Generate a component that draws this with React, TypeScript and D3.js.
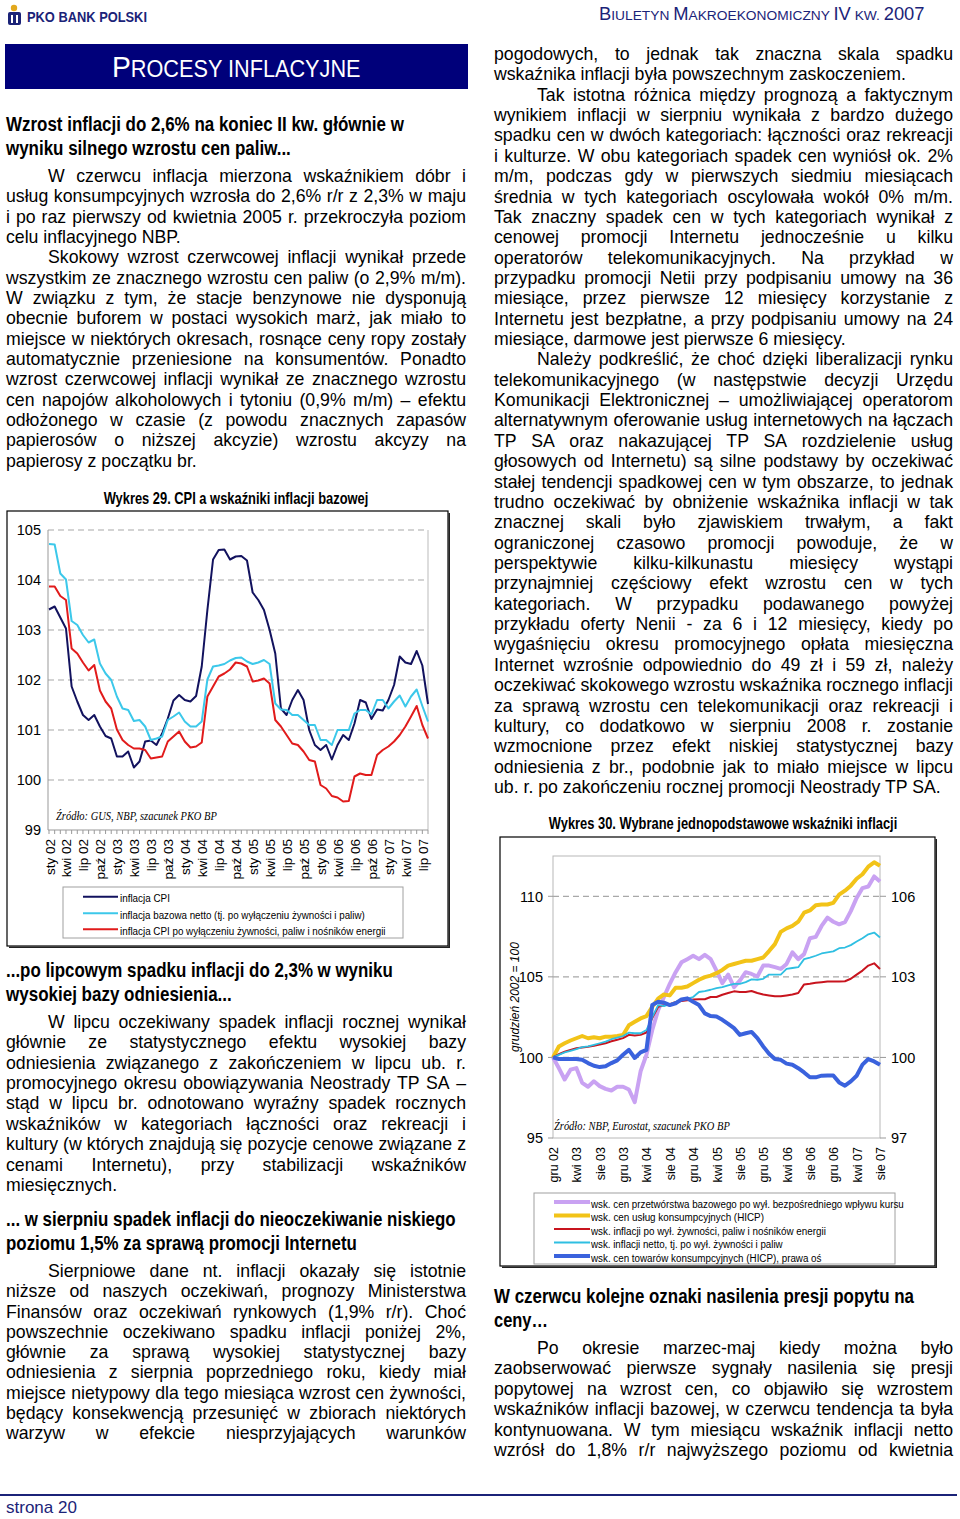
import React from 'react';
import * as d3 from 'd3';

// ---------------- Chart 29: Jan 2002 – Aug 2007 (analogous month previous year = 100)
const cpi29 = [
  103.41, 103.47, 103.25, 103.03, 101.87, 101.57, 101.3, 101.2, 101.3, 101.07, 100.88, 100.83,
  100.47, 100.47, 100.57, 100.25, 100.37, 100.77, 100.79, 100.7, 100.93, 101.23, 101.59, 101.7,
  101.6, 101.57, 101.68, 102.27, 103.4, 104.41, 104.6, 104.61, 104.41, 104.47, 104.48, 104.39,
  103.75, 103.6, 103.4, 103.0, 102.53, 101.43, 101.3, 101.6, 101.8, 101.6, 101.0, 100.7,
  100.6, 100.7, 100.41, 100.7, 100.9, 100.8, 101.13, 101.6, 101.55, 101.22, 101.41, 101.39,
  101.6, 101.9, 102.47, 102.35, 102.32, 102.58, 102.29, 101.52,
];
const netCore29 = [
  104.72, 104.71, 104.13, 104.01, 103.18, 103.1, 102.9, 102.75, 102.81, 102.33, 102.13, 102.0,
  101.67, 101.43, 101.4, 101.18, 101.2, 101.07, 100.8, 100.83, 100.87, 101.2, 101.27, 101.35,
  101.17, 101.07, 101.07, 101.17, 102.01, 102.27, 102.29, 102.32, 102.39, 102.44, 102.45, 102.37,
  102.32, 102.35, 102.4, 102.32, 101.53, 101.41, 101.4, 101.3, 101.3, 101.2, 101.1, 101.1,
  100.8, 100.8, 100.7, 101.0, 101.0, 101.0, 101.33, 101.4, 101.4, 101.31, 101.6, 101.6,
  101.43, 101.57, 101.69, 101.47, 101.67, 101.81, 101.48, 101.17,
];
const exEnergy29 = [
  103.87, 103.87, 103.68, 103.6, 102.63, 102.53, 102.35, 102.19, 102.3, 101.79, 101.57, 101.43,
  101.01, 100.8, 100.7, 100.63, 100.63, 100.6, 100.43, 100.45, 100.47, 100.77, 100.87, 100.97,
  100.77, 100.65, 100.67, 100.75, 101.67, 101.87, 102.07, 102.13, 102.21, 102.35, 102.33, 102.27,
  101.97, 101.99, 102.03, 101.93, 101.2, 101.07, 100.9, 100.73, 100.7, 100.57, 100.4, 100.37,
  99.9, 99.83, 99.68, 99.65, 99.57, 99.58, 100.07, 100.13, 100.1, 100.1, 100.5, 100.6,
  100.67, 100.77, 100.9, 101.07, 101.27, 101.48, 101.1, 100.83,
];
const xTicks29 = ['sty 02', 'kwi 02', 'lip 02', 'paź 02', 'sty 03', 'kwi 03', 'lip 03', 'paź 03',
  'sty 04', 'kwi 04', 'lip 04', 'paź 04', 'sty 05', 'kwi 05', 'lip 05', 'paź 05', 'sty 06',
  'kwi 06', 'lip 06', 'paź 06', 'sty 07', 'kwi 07', 'lip 07'];
const yTicks29 = [99, 100, 101, 102, 103, 104, 105];
const legend29 = ['inflacja CPI', 'inflacja bazowa netto (tj. po wyłączeniu żywności i paliw)',
  'inflacja CPI po wyłączeniu żywności, paliw i nośników energii'];

// ---------------- Chart 30: Dec 2002 – Aug 2007 (Dec 2002 = 100)
const processed30 = [
  100, 99.34, 98.63, 99.24, 99.34, 98.42, 98.18, 98.52, 98.22, 98.05, 97.95, 98.18, 98.18,
  98.01, 97.23, 99.14, 100.16, 101.7, 102.93, 103.75, 104.57, 105.29, 105.9, 106.1, 106.31,
  106.1, 106.37, 106.1, 105.39, 104.61, 105.14, 104.36, 104.77, 105.29, 105.18, 105.02, 105.7,
  105.7, 105.6, 105.49, 105.8, 106.52, 106.1, 106.41, 107.4, 107.48, 108.16, 108.67, 108.42,
  108.26, 108.4, 109.08, 109.9, 110.51, 110.61, 111.23, 110.92,
];
const services30 = [
  100, 100.68, 100.88, 101.05, 101.19, 101.33, 101.19, 101.25, 101.19, 101.29, 101.29, 101.33, 101.39,
  102.0, 102.21, 102.42, 102.56, 103.14, 103.65, 103.91, 103.85, 104.32, 104.32, 104.4, 104.61,
  104.82, 104.98, 105.08, 105.23, 105.43, 105.7, 105.8, 105.9, 106.0, 106.0, 106.1, 106.2,
  106.6, 107.03, 107.79, 108.01, 108.16, 108.42, 108.98, 109.12, 109.45, 109.49, 109.49, 109.59,
  110.1, 110.35, 110.66, 111.09, 111.37, 111.84, 112.11, 111.9,
];
const exEnergy30 = [
  100, 100.2, 100.35, 100.47, 100.57, 100.62, 100.66, 100.72, 100.8, 100.88, 101.0, 101.1, 101.2,
  101.4, 101.36, 101.4, 101.55, 102.45, 103.14, 103.24, 103.3, 103.44, 103.5, 103.55, 103.59,
  103.61, 103.61, 103.75, 103.75, 103.89, 104.0, 104.1, 104.06, 104.06, 104.12, 104.0, 103.91,
  103.85, 103.79, 103.79, 103.85, 103.91, 104.0, 104.53, 104.57, 104.63, 104.67, 104.71, 104.71,
  104.71, 104.73, 104.88, 105.14, 105.39, 105.7, 105.84, 105.49,
];
const netCore30 = [
  100, 100.16, 100.31, 100.41, 100.51, 100.64, 100.68, 100.78, 100.88, 100.98, 101.13, 101.23, 101.33,
  101.54, 101.5, 101.5, 101.7, 102.5, 103.24, 103.18, 103.3, 103.44, 103.59, 103.65, 103.75,
  104.06, 104.12, 104.2, 104.3, 104.36, 104.47, 104.57, 104.57, 104.67, 104.84, 104.82, 104.88,
  105.14, 105.14, 105.14, 105.49, 105.55, 105.6, 106.1, 106.2, 106.31, 106.45, 106.52, 106.58,
  106.78, 106.82, 106.97, 107.19, 107.4, 107.64, 107.75, 107.44,
];
const goods30 = [
  100, 99.94, 99.94, 99.94, 99.94, 99.91, 99.79, 99.69, 99.64, 99.67, 99.79, 99.89, 100.1,
  100.28, 99.98, 100.19, 100.28, 101.95, 102.07, 102.04, 101.95, 102.01, 102.16, 102.2, 102.07,
  101.95, 101.64, 101.54, 101.52, 101.4, 101.25, 101.09, 100.84, 100.9, 100.95, 100.72, 100.41,
  100.14, 99.94, 99.91, 99.77, 99.73, 99.6, 99.44, 99.26, 99.26, 99.32, 99.33, 99.33,
  99.07, 98.95, 99.11, 99.32, 99.73, 99.94, 99.85, 99.73,
];
const xTicks30 = ['gru 02', 'kwi 03', 'sie 03', 'gru 03', 'kwi 04', 'sie 04', 'gru 04', 'kwi 05',
  'sie 05', 'gru 05', 'kwi 06', 'sie 06', 'gru 06', 'kwi 07', 'sie 07'];
const yTicksL30 = [95, 100, 105, 110];
const yTicksR30 = [97, 100, 103, 106];
const legend30 = ['wsk. cen przetwórstwa bazowego po wył. bezpośredniego wpływu kursu',
  'wsk. cen usług konsumpcyjnych (HICP)', 'wsk. inflacji po wył. żywności, paliw i nośników energii',
  'wsk. inflacji netto, tj. po wył. żywności i paliw', 'wsk. cen towarów konsumpcyjnych (HICP), prawa oś'];

// ---------------- Text
const leftTop = [
  '>W czerwcu inflacja mierzona wskaźnikiem dóbr i',
  'usług konsumpcyjnych wzrosła do 2,6% r/r z 2,3% w maju',
  'i po raz pierwszy od kwietnia 2005 r. przekroczyła poziom',
  'celu inflacyjnego NBP.|',
  '>Skokowy wzrost czerwcowej inflacji wynikał przede',
  'wszystkim ze znacznego wzrostu cen paliw (o 2,9% m/m).',
  'W związku z tym, że stacje benzynowe nie dysponują',
  'obecnie buforem w postaci wysokich marż, jak miało to',
  'miejsce w niektórych okresach, rosnące ceny ropy zostały',
  'automatycznie przeniesione na konsumentów. Ponadto',
  'wzrost czerwcowej inflacji wynikał ze znacznego wzrostu',
  'cen napojów alkoholowych i tytoniu (0,9% m/m) – efektu',
  'odłożonego w czasie (z powodu znacznych zapasów',
  'papierosów o niższej akcyzie) wzrostu akcyzy na',
  'papierosy z początku br.|',
];
const leftMid = [
  '>W lipcu oczekiwany spadek inflacji rocznej wynikał',
  'głównie ze statystycznego efektu wysokiej bazy',
  'odniesienia związanego z zakończeniem w lipcu ub. r.',
  'promocyjnego okresu obowiązywania Neostrady TP SA –',
  'stąd w lipcu br. odnotowano wyraźny spadek rocznych',
  'wskaźników w kategoriach łączności oraz rekreacji i',
  'kultury (w których znajdują się pozycje cenowe związane z',
  'cenami Internetu), przy stabilizacji wskaźników',
  'miesięcznych.|',
];
const leftBottom = [
  '>Sierpniowe dane nt. inflacji okazały się istotnie',
  'niższe od naszych oczekiwań, prognozy Ministerstwa',
  'Finansów oraz oczekiwań rynkowych (1,9% r/r). Choć',
  'powszechnie oczekiwano spadku inflacji poniżej 2%,',
  'głównie za sprawą wysokiej statystycznej bazy',
  'odniesienia z sierpnia poprzedniego roku, kiedy miał',
  'miejsce nietypowy dla tego miesiąca wzrost cen żywności,',
  'będący konsekwencją przesunięć w zbiorach niektórych',
  'warzyw w efekcie niesprzyjających warunków',
];
const rightTop = [
  'pogodowych, to jednak tak znaczna skala spadku',
  'wskaźnika inflacji była powszechnym zaskoczeniem.|',
  '>Tak istotna różnica między prognozą a faktycznym',
  'wynikiem inflacji w sierpniu wynikała z bardzo dużego',
  'spadku cen w dwóch kategoriach: łączności oraz rekreacji',
  'i kulturze. W obu kategoriach spadek cen wyniósł ok. 2%',
  'm/m, podczas gdy w pierwszych siedmiu miesiącach',
  'średnia w tych kategoriach oscylowała wokół 0% m/m.',
  'Tak znaczny spadek cen w tych kategoriach wynikał z',
  'cenowej promocji Internetu jednocześnie u kilku',
  'operatorów telekomunikacyjnych. Na przykład w',
  'przypadku promocji Netii przy podpisaniu umowy na 36',
  'miesiące, przez pierwsze 12 miesięcy korzystanie z',
  'Internetu jest bezpłatne, a przy podpisaniu umowy na 24',
  'miesiące, darmowe jest pierwsze 6 miesięcy.|',
  '>Należy podkreślić, że choć dzięki liberalizacji rynku',
  'telekomunikacyjnego (w następstwie decyzji Urzędu',
  'Komunikacji Elektronicznej – umożliwiającej operatorom',
  'alternatywnym oferowanie usług internetowych na łączach',
  'TP SA oraz nakazującej TP SA rozdzielenie usług',
  'głosowych od Internetu) są silne podstawy by oczekiwać',
  'stałej tendencji spadkowej cen w tym obszarze, to jednak',
  'trudno oczekiwać by obniżenie wskaźnika inflacji w tak',
  'znacznej skali było zjawiskiem trwałym, a fakt',
  'ograniczonej czasowo promocji powoduje, że w',
  'perspektywie kilku-kilkunastu miesięcy wystąpi',
  'przynajmniej częściowy efekt wzrostu cen w tych',
  'kategoriach. W przypadku podawanego powyżej',
  'przykładu oferty Nenii - za 6 i 12 miesięcy, kiedy po',
  'wygaśnięciu okresu promocyjnego opłata miesięczna',
  'Internet wzrośnie odpowiednio do 49 zł i 59 zł, należy',
  'oczekiwać skokowego wzrostu wskaźnika rocznego inflacji',
  'za sprawą wzrostu cen telekomunikacji oraz rekreacji i',
  'kultury, co dodatkowo w sierpniu 2008 r. zostanie',
  'wzmocnione przez efekt niskiej statystycznej bazy',
  'odniesienia z br., podobnie jak to miało miejsce w lipcu',
  'ub. r. po zakończeniu rocznej promocji Neostrady TP SA.|',
];
const rightBottom = [
  '>Po okresie marzec-maj kiedy można było',
  'zaobserwować pierwsze sygnały nasilenia się presji',
  'popytowej na wzrost cen, co objawiło się wzrostem',
  'wskaźników inflacji bazowej, w czerwcu tendencja ta była',
  'kontynuowana. W tym miesiącu wskaźnik inflacji netto',
  'wzrósł do 1,8% r/r najwyższego poziomu od kwietnia',
];

const SANS = '"Liberation Sans", Arial, sans-serif';
const SERIF = '"Liberation Serif", "Times New Roman", serif';
const BODY = 17.7;
const NAVY = '#1B2378';

let _ctx: CanvasRenderingContext2D | null = null;
function textWidth(s: string, font: string): number {
  if (!_ctx) {
    const c = document.createElement('canvas');
    _ctx = c.getContext('2d');
  }
  if (!_ctx) return s.length * 8;
  _ctx.font = font;
  return _ctx.measureText(s).width;
}

type Part = { t: string; size: number };

// Text horizontally squeezed (narrow-font look) to a measured width via a scale transform
function SqText({ x, y, w, parts, weight = 'normal', italic = false, serif = false, anchor = 'start', fill = '#000', dy }:
  { x: number; y: number; w: number; parts: Part[]; weight?: string; italic?: boolean; serif?: boolean; anchor?: string; fill?: string; dy?: string }) {
  const fam = serif ? '"Liberation Serif"' : '"Liberation Sans"';
  const natural = d3.sum(parts, (p) => textWidth(p.t, `${italic ? 'italic ' : ''}${weight} ${p.size}px ${fam}`));
  const k = natural > 0 ? w / natural : 1;
  return (
    <text transform={`translate(${x},${y}) scale(${k},1)`} textAnchor={anchor} dy={dy}
      fontFamily={serif ? SERIF : SANS} fontWeight={weight} fontStyle={italic ? 'italic' : 'normal'} fill={fill}>
      {parts.map((p, i) => <tspan key={i} fontSize={p.size}>{p.t}</tspan>)}
    </text>
  );
}

function TextBlock({ lines, x0, x1, indent, y0, dy }: { lines: string[]; x0: number; x1: number; indent: number; y0: number; dy: number }) {
  const font = `${BODY}px "Liberation Sans"`;
  return (
    <g fontFamily={SANS} fontSize={BODY} fill="#000">
      {lines.map((raw, i) => {
        let s = raw;
        let ind = false;
        let last = false;
        if (s.startsWith('>')) { ind = true; s = s.slice(1); }
        if (s.endsWith('|')) { last = true; s = s.slice(0, -1); }
        const xs = ind ? indent : x0;
        const y = y0 + i * dy;
        if (last) return <text key={i} x={xs} y={y}>{s}</text>;
        const words = s.split(' ');
        const ws = words.map((w) => textWidth(w, font));
        const sum = d3.sum(ws);
        const gap = words.length > 1 ? (x1 - xs - sum) / (words.length - 1) : 0;
        let cx = xs;
        const pos = ws.map((w) => { const p = cx; cx += w + gap; return p; });
        return (
          <text key={i} y={y}>
            {words.map((w, j) => <tspan key={j} x={pos[j]}>{w}</tspan>)}
          </text>
        );
      })}
    </g>
  );
}

function Heading({ x, y, w, text }: { x: number; y: number; w: number; text: string }) {
  return <SqText x={x} y={y} w={w} parts={[{ t: text, size: 19.5 }]} weight="bold" />;
}

function Box({ x, y, w, h }: { x: number; y: number; w: number; h: number }) {
  return (
    <g>
      <rect x={x} y={y} width={w} height={h} fill="#fff" stroke="#000" strokeWidth={1.2} />
      <line x1={x + w + 1.2} y1={y + 2} x2={x + w + 1.2} y2={y + h + 2} stroke="#222" strokeWidth={1.6} />
      <line x1={x + 2} y1={y + h + 1.2} x2={x + w + 2} y2={y + h + 1.2} stroke="#222" strokeWidth={1.6} />
    </g>
  );
}

function Chart29() {
  const x = d3.scaleLinear().domain([0, cpi29.length - 1]).range([49, 428]);
  const y = d3.scaleLinear().domain([99, 105]).range([830, 530]);
  const line = d3.line<number>().x((_, i) => x(i)).y((d) => y(d));
  const series = [
    { data: cpi29, color: '#12125E' },
    { data: netCore29, color: '#3CC8EA' },
    { data: exEnergy29, color: '#E11B1B' },
  ];
  const widths = [50, 245, 266];
  return (
    <g>
      <SqText x={236} y={504} w={265} anchor="middle" weight="bold" parts={[{ t: 'Wykres 29. CPI a wskaźniki inflacji bazowej', size: 16 }]} />
      <Box x={7} y={511} w={441} h={435} />
      {yTicks29.filter((t) => t > 99).map((t) => (
        <line key={t} x1={48} x2={428} y1={y(t)} y2={y(t)} stroke="#A8A8A8" strokeWidth={1.2} strokeDasharray="6,4" />
      ))}
      <line x1={48} x2={48} y1={530} y2={830} stroke="#999" />
      <line x1={428} x2={428} y1={530} y2={830} stroke="#BBB" />
      <line x1={48} x2={428} y1={830} y2={830} stroke="#999" />
      {cpi29.map((_, i) => (
        <line key={i} x1={x(i)} x2={x(i)} y1={830} y2={834} stroke="#999" />
      ))}
      {yTicks29.map((t) => (
        <text key={t} x={41} y={y(t)} dy="0.36em" textAnchor="end" fontFamily={SANS} fontSize={14.5}>{t}</text>
      ))}
      {xTicks29.map((t, k) => (
        <text key={t} transform={`translate(${x(k * 3) + 1},839) rotate(-90)`} textAnchor="end" dominantBaseline="central" fontFamily={SANS} fontSize={13.5}>{t}</text>
      ))}
      <SqText x={56} y={820} w={161} serif italic parts={[{ t: 'Źródło: GUS, NBP, szacunek PKO BP', size: 11.5 }]} />
      {series.map((s, i) => (
        <path key={i} d={line(s.data) || ''} fill="none" stroke={s.color} strokeWidth={2} strokeLinejoin="round" />
      ))}
      <rect x={63} y={887} width={340} height={51} fill="#fff" stroke="#A0A0A0" />
      {legend29.map((t, i) => {
        const ly = [896.7, 913.3, 929.3][i];
        return (
          <g key={i}>
            <line x1={83} x2={118} y1={ly} y2={ly} stroke={series[i].color} strokeWidth={2} />
            <SqText x={120} y={ly} dy="0.35em" w={widths[i]} parts={[{ t, size: 11 }]} />
          </g>
        );
      })}
    </g>
  );
}

function Chart30() {
  const x = d3.scaleLinear().domain([0, services30.length - 1]).range([553, 880]);
  const yL = d3.scaleLinear().domain([95, 112.5]).range([1138, 856]);
  const yR = d3.scaleLinear().domain([97, 107.5]).range([1138, 856]);
  const lineL = d3.line<number>().x((_, i) => x(i)).y((d) => yL(d));
  const lineR = d3.line<number>().x((_, i) => x(i)).y((d) => yR(d));
  const series = [
    { data: processed30, color: '#C9A2F2', w: 4, right: false },
    { data: services30, color: '#F2C318', w: 4, right: false },
    { data: exEnergy30, color: '#C8141E', w: 2, right: false },
    { data: netCore30, color: '#2FBFE2', w: 1.8, right: false },
    { data: goods30, color: '#3A62DD', w: 4, right: true },
  ];
  const widths = [313, 173, 235, 192, 231];
  return (
    <g>
      <SqText x={723} y={829} w={349} anchor="middle" weight="bold" parts={[{ t: 'Wykres 30. Wybrane jednopodstawowe wskaźniki inflacji', size: 16 }]} />
      <Box x={500} y={837} w={435} h={429} />
      <rect x={553} y={856} width={327} height={282} fill="none" stroke="#B8B8B8" />
      {yTicksL30.filter((t) => t > 95).map((t) => (
        <line key={t} x1={553} x2={880} y1={yL(t)} y2={yL(t)} stroke="#A8A8A8" strokeWidth={1.2} strokeDasharray="6,4" />
      ))}
      {yTicksL30.map((t) => (
        <g key={t}>
          <line x1={548} x2={553} y1={yL(t)} y2={yL(t)} stroke="#999" />
          <text x={543} y={yL(t)} dy="0.36em" textAnchor="end" fontFamily={SANS} fontSize={14.5}>{t}</text>
        </g>
      ))}
      {yTicksR30.map((t) => (
        <g key={t}>
          <line x1={880} x2={886} y1={yR(t)} y2={yR(t)} stroke="#999" />
          <text x={891} y={yR(t)} dy="0.36em" fontFamily={SANS} fontSize={14.5}>{t}</text>
        </g>
      ))}
      <text transform="translate(519,997) rotate(-90)" textAnchor="middle" fontFamily={SANS} fontStyle="italic" fontSize={12}>grudzień 2002 = 100</text>
      {xTicks30.map((t, k) => (
        <text key={t} transform={`translate(${x(k * 4) + 1},1147) rotate(-90)`} textAnchor="end" dominantBaseline="central" fontFamily={SANS} fontSize={12.5}>{t}</text>
      ))}
      <SqText x={554} y={1130} w={176} serif italic parts={[{ t: 'Źródło: NBP, Eurostat, szacunek PKO BP', size: 11.5 }]} />
      {series.map((s, i) => (
        <path key={i} d={(s.right ? lineR(s.data) : lineL(s.data)) || ''} fill="none" stroke={s.color} strokeWidth={s.w} strokeLinejoin="round" />
      ))}
      <rect x={534} y={1193} width={361} height={71} fill="#fff" stroke="#A0A0A0" />
      {legend30.map((t, i) => {
        const ly = 1202 + i * 13.5;
        return (
          <g key={i}>
            <line x1={554} x2={590} y1={ly} y2={ly} stroke={series[i].color} strokeWidth={series[i].w > 3 ? 4 : 2.2} />
            <SqText x={591} y={ly} dy="0.35em" w={widths[i]} parts={[{ t, size: 11 }]} />
          </g>
        );
      })}
    </g>
  );
}

export default function App() {
  return (
    <div style={{ position: 'absolute', left: 0, top: 0 }}>
      <svg width={960} height={1519} viewBox="0 0 960 1519" style={{ display: 'block', background: '#fff' }}>
        <rect x={0} y={0} width={960} height={1519} fill="#fff" />
        {/* header */}
        <g>
          <circle cx={14} cy={8} r={3.2} fill="#E2A81C" />
          <rect x={8} y={12} width={13} height={13} rx={2} fill={NAVY} />
          <rect x={11} y={15} width={2} height={8} fill="#fff" />
          <rect x={16} y={15} width={2} height={8} fill="#fff" />
          <SqText x={27} y={22} w={120} weight="bold" fill={NAVY} parts={[{ t: 'PKO BANK POLSKI', size: 14 }]} />
          <SqText x={599} y={20} w={326} fill={NAVY} parts={[
            { t: 'B', size: 18 }, { t: 'IULETYN ', size: 13.5 }, { t: 'M', size: 18 },
            { t: 'AKROEKONOMICZNY ', size: 13.5 }, { t: 'IV', size: 18 }, { t: ' KW. ', size: 13.5 }, { t: '2007', size: 18 },
          ]} />
        </g>
        <rect x={5} y={44} width={463} height={45} fill="#00007A" />
        <SqText x={112} y={77} w={249} fill="#fff" parts={[{ t: 'P', size: 30 }, { t: 'ROCESY INFLACYJNE', size: 23 }]} />

        <Heading x={6} y={131} w={398} text="Wzrost inflacji do 2,6% na koniec II kw. głównie w" />
        <Heading x={6} y={155} w={285} text="wyniku silnego wzrostu cen paliw..." />
        <TextBlock lines={leftTop} x0={6} x1={466} indent={48} y0={182} dy={20.33} />

        <Chart29 />

        <Heading x={6} y={977} w={387} text="...po lipcowym spadku inflacji do 2,3% w wyniku" />
        <Heading x={6} y={1001} w={226} text="wysokiej bazy odniesienia..." />
        <TextBlock lines={leftMid} x0={6} x1={466} indent={48} y0={1028} dy={20.37} />
        <Heading x={6} y={1226} w={450} text="... w sierpniu spadek inflacji do nieoczekiwanie niskiego" />
        <Heading x={6} y={1250} w={351} text="poziomu 1,5% za sprawą promocji Internetu" />
        <TextBlock lines={leftBottom} x0={6} x1={466} indent={48} y0={1277} dy={20.25} />

        <TextBlock lines={rightTop} x0={494} x1={953} indent={537} y0={60} dy={20.36} />
        <Chart30 />
        <Heading x={494} y={1303} w={420} text="W czerwcu kolejne oznaki nasilenia presji popytu na" />
        <Heading x={494} y={1327} w={54} text="ceny…" />
        <TextBlock lines={rightBottom} x0={494} x1={953} indent={537} y0={1354} dy={20.4} />

        {/* footer */}
        <line x1={0} x2={957} y1={1495} y2={1495} stroke={NAVY} strokeWidth={2} />
        <text x={6} y={1513} fontFamily={SANS} fontSize={17} fill={NAVY}>strona 20</text>
      </svg>
    </div>
  );
}
